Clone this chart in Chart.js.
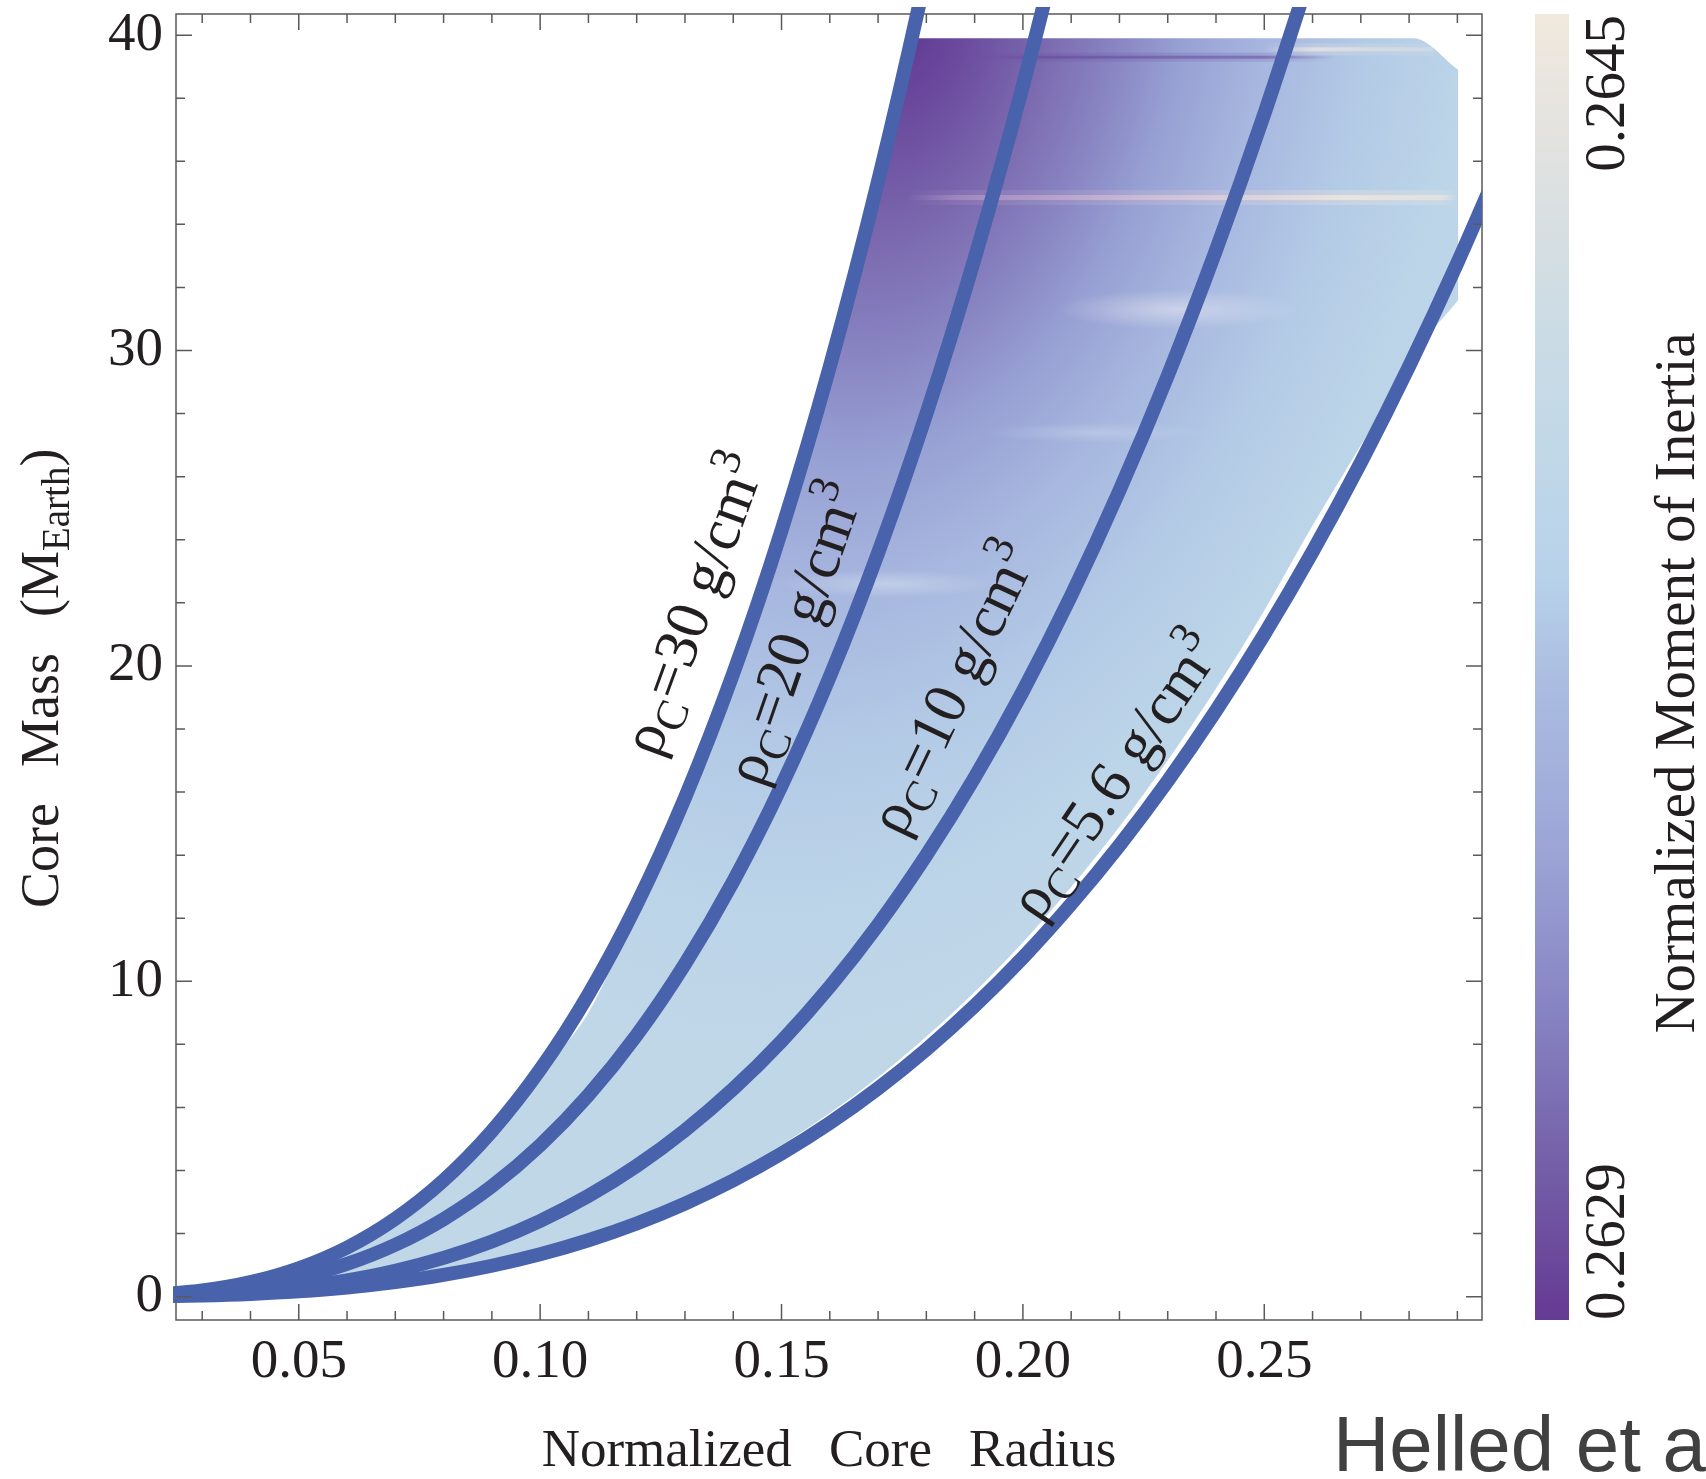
<!DOCTYPE html>
<html>
<head>
<meta charset="utf-8">
<script src="https://cdn.jsdelivr.net/npm/chart.js@4.4.1/dist/chart.umd.min.js"></script>
<style>
html,body{margin:0;padding:0;background:#ffffff;}
#c{display:block;}
</style>
</head>
<body>
<canvas id="c" width="1706" height="1479"></canvas>
<script>
// ---------------- data ----------------
// normalized core radius sample positions
const radiusX = [0.02,0.03,0.04,0.05,0.06,0.07,0.08,0.09,0.10,0.11,0.12,0.13,0.14,0.15,0.16,0.17,0.18,0.19,0.20,0.21,0.22,0.23,0.24,0.25,0.26,0.27,0.28,0.29,0.30];
// core mass (M_Earth) along each constant-density curve
const mass30 = [0.058,0.194,0.461,0.90,1.555,2.47,3.686,5.249,7.2,9.583,12.44,15.82,19.76,24.30,29.49,35.37,41.99,49.38];
const mass20 = [0.038,0.130,0.307,0.60,1.037,1.646,2.458,3.499,4.80,6.389,8.294,10.55,13.17,16.20,19.66,23.58,27.99,32.92,38.40,44.45];
const mass10 = [0.019,0.065,0.154,0.30,0.518,0.823,1.229,1.750,2.40,3.194,4.147,5.273,6.586,8.10,9.83,11.79,14.00,16.46,19.20,22.23,25.56,29.20,33.18,37.50,42.18];
const mass56 = [0.011,0.036,0.086,0.168,0.290,0.461,0.688,0.980,1.344,1.789,2.322,2.953,3.688,4.536,5.505,6.603,7.838,9.219,10.75,12.45,14.31,16.35,18.58,21.00,23.62,26.45,29.50,32.78,36.29];
const densityLabels = ['30','20','10','5.6'];

// extent of the moment-of-inertia map (upper and lower edges)
const regionX      = [0.020,0.030,0.040,0.050,0.060,0.070,0.080,0.090,0.100,0.110,0.120,0.130,0.140,0.150,0.160,0.170,0.1785,0.190,0.200,0.210,0.220,0.230,0.240,0.250,0.260,0.270,0.280,0.2809,0.2902];
const regionTop    = [0.06,0.19,0.46,0.90,1.55,2.47,3.69,5.25,7.10,9.00,12.3,15.8,19.7,24.2,29.4,35.2,39.9,39.9,39.9,39.9,39.9,39.9,39.9,39.9,39.9,39.9,39.9,39.9,38.9];
const regionBottom = [0.01,0.04,0.09,0.17,0.29,0.46,0.69,0.99,1.36,1.85,2.45,3.16,3.93,4.81,5.82,6.96,8.04,9.66,11.24,12.99,14.90,17.00,19.28,21.76,24.45,27.0,29.6,29.85,31.6];

// ticks
const xTickValues = [0.05,0.10,0.15,0.20,0.25];
const xMinorTickValues = [0.03,0.04,0.06,0.07,0.08,0.09,0.11,0.12,0.13,0.14,0.16,0.17,0.18,0.19,0.21,0.22,0.23,0.24,0.26,0.27,0.28,0.29];
const yTickValues = [0,10,20,30,40];
const yMinorTickValues = [2,4,6,8,12,14,16,18,22,24,26,28,32,34,36,38];
const colorbarTickLabels = ['0.2629','0.2645'];

// ---------------- styles / placement ----------------
const SERIF = "'Liberation Serif','Times New Roman',Times,serif";
const INK = '#231f20';
const LINE_BLUE = '#4862ab';
const FRAME = '#5a5a5a';
const CB_STOPS = [[0,'#f1e9dd'],[0.10,'#e2e2e0'],[0.22,'#cedce4'],[0.33,'#c1d8e8'],[0.43,'#b8d2ea'],[0.52,'#a9bbe0'],[0.64,'#9ca5d6'],[0.755,'#8886c4'],[0.87,'#7663aa'],[1,'#653a93']];
const HEAT_STOPS = [[0,'#613892'],[0.10,'#6c4c9f'],[0.22,'#7c6bb0'],[0.32,'#8884c2'],[0.42,'#97a0d3'],[0.55,'#a7b7df'],[0.70,'#b3cae6'],[0.85,'#bcd4e8'],[1,'#c0d7e8']];
const labelPlacement = [
  {x:0.1317, y:21.96, angle:-70.0},
  {x:0.1526, y:21.04, angle:-70.9},
  {x:0.1854, y:19.30, angle:-64.5},
  {x:0.2190, y:16.54, angle:-56.0}
];

function zip(xs, ys){ return ys.map((y,i)=>({x:xs[i], y:y})); }

function heatPattern(chart){
  const a = chart.chartArea;
  const key = chart.width+'x'+chart.height+':'+a.left+','+a.top+','+a.right+','+a.bottom;
  if (chart.$heat && chart.$heat.key === key) return chart.$heat.pat;
  const off = document.createElement('canvas');
  off.width = chart.width; off.height = chart.height;
  const o = off.getContext('2d');
  const xs = chart.scales.x, ys = chart.scales.y;
  const px = v => xs.getPixelForValue(v), py = v => ys.getPixelForValue(v);
  o.fillStyle = '#c0d7e8'; o.fillRect(0,0,off.width,off.height);
  // elliptical colour field centred at the dense, small-radius corner
  o.save();
  o.translate(px(0.176), py(40.5));
  o.rotate(0.229);
  o.scale(650, 1060);
  const g = o.createRadialGradient(0,0,0,0,0,1);
  HEAT_STOPS.forEach(s=>g.addColorStop(s[0], s[1]));
  o.fillStyle = g; o.fillRect(-3,-3,6,6);
  o.restore();
  // streaks
  function streak(x0, x1, m, h, stops){
    const X0 = px(x0), X1 = px(x1), Y = py(m);
    const lg = o.createLinearGradient(X0,0,X1,0);
    stops.forEach(s=>lg.addColorStop(s[0], s[1]));
    o.fillStyle = lg;
    o.globalAlpha = 0.35; o.fillRect(X0, Y-h*1.5, X1-X0, h*3);
    o.globalAlpha = 1; o.fillRect(X0, Y-h/2, X1-X0, h);
  }
  function glow(x, m, rx, ry, rgb, al){
    o.save(); o.translate(px(x), py(m)); o.scale(rx, ry);
    const rg = o.createRadialGradient(0,0,0,0,0,1);
    rg.addColorStop(0,'rgba('+rgb+','+al+')'); rg.addColorStop(1,'rgba('+rgb+',0)');
    o.fillStyle = rg; o.fillRect(-1,-1,2,2); o.restore();
  }
  streak(0.176, 0.29, 34.85, 5, [[0,'rgba(195,165,205,0)'],[0.1,'rgba(195,165,205,0.45)'],[0.45,'rgba(225,200,215,0.65)'],[0.8,'rgba(242,230,220,0.85)'],[0.97,'rgba(242,232,222,0.6)'],[1,'rgba(242,232,222,0)']]);
  streak(0.19, 0.265, 39.3, 3, [[0,'rgba(100,70,155,0)'],[0.2,'rgba(100,70,155,0.5)'],[0.8,'rgba(100,70,155,0.5)'],[1,'rgba(100,70,155,0)']]);
  streak(0.25, 0.285, 39.55, 4, [[0,'rgba(232,228,225,0)'],[0.3,'rgba(232,228,225,0.8)'],[1,'rgba(232,228,225,0.3)']]);
  glow(0.232, 31.3, 120, 20, '228,228,240', 0.6);
  glow(0.172, 22.6, 110, 14, '215,225,238', 0.55);
  glow(0.215, 27.4, 110, 10, '205,215,236', 0.45);
  const pat = chart.ctx.createPattern(off, 'no-repeat');
  chart.$heat = {key:key, pat:pat};
  return pat;
}

const framePlugin = {
  id: 'frameTicks',
  beforeDatasetsDraw(chart){
    const {ctx, chartArea:a} = chart;
    ctx.save();
    ctx.strokeStyle = FRAME; ctx.lineWidth = 1.5;
    ctx.strokeRect(a.left, a.top, a.right-a.left, a.bottom-a.top);
    ctx.restore();
  },
  afterDatasetsDraw(chart){
    const {ctx, chartArea:a} = chart;
    const xs = chart.scales.x, ys = chart.scales.y;
    ctx.save();
    ctx.strokeStyle = FRAME; ctx.lineWidth = 1.5;
    ctx.beginPath();
    const xt = (v,len)=>{ const X = xs.getPixelForValue(v);
      ctx.moveTo(X, a.bottom); ctx.lineTo(X, a.bottom-len);
      ctx.moveTo(X, a.top); ctx.lineTo(X, a.top+len); };
    const yt = (v,len)=>{ const Y = ys.getPixelForValue(v);
      ctx.moveTo(a.left, Y); ctx.lineTo(a.left+len, Y);
      ctx.moveTo(a.right, Y); ctx.lineTo(a.right-len, Y); };
    xTickValues.forEach(v=>xt(v,16)); xMinorTickValues.forEach(v=>xt(v,9));
    yTickValues.forEach(v=>yt(v,16)); yMinorTickValues.forEach(v=>yt(v,9));
    ctx.stroke();
    ctx.restore();
  }
};

function drawRhoLabel(ctx, cx, cy, angleDeg, value, size){
  ctx.save();
  ctx.translate(cx, cy); ctx.rotate(angleDeg*Math.PI/180);
  const big = size+'px '+SERIF, small = Math.round(size*0.72)+'px '+SERIF;
  const base = 0.33*size;
  const parts = [
    {t:'\u03c1', f:big, y:base},
    {t:'C', f:small, y:base+0.2*size},
    {t:'='+value+' g/cm', f:big, y:base},
    {t:'3', f:small, y:base-0.4*size}
  ];
  let w = 0;
  parts.forEach(p=>{ ctx.font = p.f; p.w = ctx.measureText(p.t).width; w += p.w; });
  let x = -w/2;
  ctx.fillStyle = INK; ctx.textBaseline = 'alphabetic'; ctx.textAlign = 'left';
  parts.forEach(p=>{ ctx.font = p.f; ctx.fillText(p.t, x, p.y); x += p.w; });
  ctx.restore();
}

const annotatePlugin = {
  id: 'annotate',
  afterDraw(chart){
    const {ctx, chartArea:a} = chart;
    const xs = chart.scales.x, ys = chart.scales.y;
    // curve labels
    labelPlacement.forEach((p,i)=>{
      drawRhoLabel(ctx, xs.getPixelForValue(p.x), ys.getPixelForValue(p.y), p.angle, densityLabels[i], 61);
    });
    // y axis title: Core Mass (M_Earth)
    ctx.save();
    ctx.translate(58, 908); ctx.rotate(-Math.PI/2);
    ctx.fillStyle = INK; ctx.textBaseline = 'alphabetic'; ctx.textAlign = 'left';
    const big = '54px '+SERIF, sub = '39px '+SERIF;
    const yparts = [{t:'Core',f:big,y:0,gap:36},{t:'Mass',f:big,y:0,gap:36},{t:'(M',f:big,y:0,gap:0},{t:'Earth',f:sub,y:11,gap:0},{t:')',f:big,y:0,gap:0}];
    let x = 0;
    yparts.forEach(p=>{ ctx.font = p.f; ctx.fillText(p.t, x, p.y); x += ctx.measureText(p.t).width + p.gap; });
    ctx.restore();
    // colour bar
    const cbX = a.right + 53, cbW = 34;
    const g = ctx.createLinearGradient(0, a.top, 0, a.bottom);
    CB_STOPS.forEach(s=>g.addColorStop(s[0], s[1]));
    ctx.save();
    ctx.fillStyle = g; ctx.fillRect(cbX, a.top, cbW, a.bottom-a.top);
    ctx.fillStyle = INK; ctx.font = '57px '+SERIF; ctx.textBaseline = 'alphabetic';
    ctx.save(); ctx.translate(cbX+cbW+55, a.top+1); ctx.rotate(-Math.PI/2);
    ctx.textAlign = 'right'; ctx.fillText(colorbarTickLabels[1], 0, 0); ctx.restore();
    ctx.save(); ctx.translate(cbX+cbW+55, a.bottom); ctx.rotate(-Math.PI/2);
    ctx.textAlign = 'left'; ctx.fillText(colorbarTickLabels[0], 0, 0); ctx.restore();
    ctx.save(); ctx.translate(cbX+cbW+125, (a.top+a.bottom)/2+16); ctx.rotate(-Math.PI/2);
    ctx.textAlign = 'center'; ctx.fillText('Normalized Moment of Inertia', 0, 0); ctx.restore();
    ctx.restore();
    // source note
    ctx.save();
    ctx.fillStyle = '#404040'; ctx.font = "78px 'Liberation Sans',Arial,sans-serif";
    ctx.textAlign = 'left'; ctx.textBaseline = 'alphabetic';
    ctx.fillText('Helled et al.', 1333, 1471);
    ctx.restore();
  }
};

const curveSets = [mass30, mass20, mass10, mass56].map((m,i)=>({
  label: '\u03c1C=' + densityLabels[i] + ' g/cm3',
  data: zip(radiusX, m),
  borderColor: LINE_BLUE,
  backgroundColor: LINE_BLUE,
  borderWidth: 14,
  pointRadius: 0,
  fill: false,
  cubicInterpolationMode: 'monotone',
  borderCapStyle: 'butt',
  borderJoinStyle: 'round',
  clip: {left: 3, top: 7, right: 0, bottom: 0},
  order: 0
}));

new Chart(document.getElementById('c'), {
  type: 'line',
  data: {
    datasets: [
      { label: 'map top', data: zip(regionX, regionTop), fill: '+1',
        backgroundColor: c => (c.chart.chartArea ? heatPattern(c.chart) : '#bdd5e8'),
        borderColor: 'rgba(0,0,0,0)', borderWidth: 0, pointRadius: 0,
        cubicInterpolationMode: 'monotone', order: 10 },
      { label: 'map bottom', data: zip(regionX, regionBottom), fill: false,
        borderColor: 'rgba(0,0,0,0)', borderWidth: 0, pointRadius: 0,
        cubicInterpolationMode: 'monotone', order: 11 },
      ...curveSets
    ]
  },
  options: {
    responsive: false,
    animation: false,
    devicePixelRatio: 1,
    layout: { padding: { left: 0, right: 224, top: 14, bottom: 0 } },
    plugins: { legend: { display: false }, tooltip: { enabled: false } },
    scales: {
      x: {
        type: 'linear', min: 0.02457, max: 0.2951,
        grid: { display: false, drawTicks: false }, border: { display: false },
        afterBuildTicks: s => { s.ticks = xTickValues.map(v => ({ value: v })); },
        afterFit: s => { s.height = 159; s.paddingLeft = 0; s.paddingRight = 0; },
        ticks: { padding: 10, autoSkip: false, maxRotation: 0, minRotation: 0, color: INK,
                 font: { family: SERIF, size: 55 }, callback: v => Number(v).toFixed(2) },
        title: { display: true, text: 'Normalized\u2002\u2009Core\u2002\u2009Radius', color: INK,
                 font: { family: SERIF, size: 53, lineHeight: 1 }, padding: { top: 0, bottom: 0 } }
      },
      y: {
        type: 'linear', min: -0.74, max: 40.67,
        grid: { display: false, drawTicks: false }, border: { display: false },
        afterBuildTicks: s => { s.ticks = yTickValues.map(v => ({ value: v })); },
        afterFit: s => { s.width = 176; s.paddingTop = 0; s.paddingBottom = 0; },
        ticks: { padding: 13, autoSkip: false, color: INK,
                 font: { family: SERIF, size: 55 }, callback: v => String(v) }
      }
    }
  },
  plugins: [framePlugin, annotatePlugin]
});
</script>
</body>
</html>
